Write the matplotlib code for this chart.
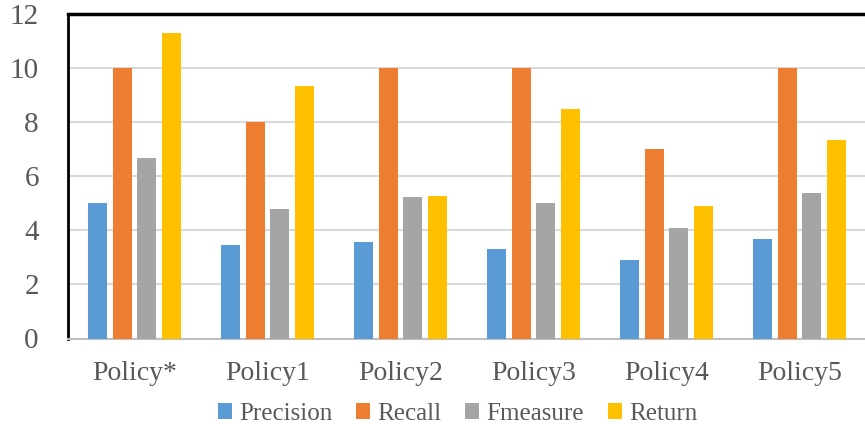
import numpy as np
import matplotlib.pyplot as plt

policies = ["Policy*", "Policy1", "Policy2", "Policy3", "Policy4", "Policy5"]
precision = [5.0, 3.45, 3.55, 3.32, 2.9, 3.68]
recall = [10, 8, 10, 10, 7, 10]
fmeasure = [6.66, 4.78, 5.23, 5.0, 4.08, 5.38]
returns = [11.27, 9.32, 5.27, 8.47, 4.88, 7.33]

series = [("Precision", precision, "#5B9BD5"),
          ("Recall", recall, "#ED7D31"),
          ("Fmeasure", fmeasure, "#A5A5A5"),
          ("Return", returns, "#FFC000")]

plt.rcParams['font.family'] = ['Liberation Serif', 'DejaVu Serif']

fig = plt.figure(figsize=(8.65, 4.24), dpi=100)
ax = fig.add_axes([68 / 865, (424 - 338.5) / 424, 798 / 865, 325 / 424])

x = np.arange(len(policies))
step = 0.1845
for i, (name, vals, col) in enumerate(series):
    ax.bar(x + (i - 1.5) * step, vals, width=0.146, color=col, label=name, zorder=3)

ax.set_xlim(-0.5, 5.5)
ax.set_ylim(0, 12)
ax.set_yticks(range(0, 13, 2))
ax.set_xticks(x)
ax.set_xticklabels(policies)
ax.tick_params(axis='y', length=0, pad=21, labelsize=21, labelcolor="#595959")
ax.tick_params(axis='x', length=0, pad=16, labelsize=20, labelcolor="#595959")
ax.yaxis.grid(True, color="#D9D9D9", linewidth=1.5, zorder=0)

ax.spines['left'].set_color("black")
ax.spines['left'].set_linewidth(2)
ax.spines['top'].set_color("black")
ax.spines['top'].set_linewidth(2.5)
ax.spines['bottom'].set_color("#BFBFBF")
ax.spines['bottom'].set_linewidth(1.5)
ax.spines['right'].set_visible(False)

leg = fig.legend(loc="lower center", bbox_to_anchor=(0.529, -0.055), ncol=4, frameon=False,
                 fontsize=18, handlelength=0.55, handleheight=0.55, handletextpad=0.3,
                 columnspacing=0.95, labelcolor="#595959")

fig.savefig("out.png", dpi=100)
